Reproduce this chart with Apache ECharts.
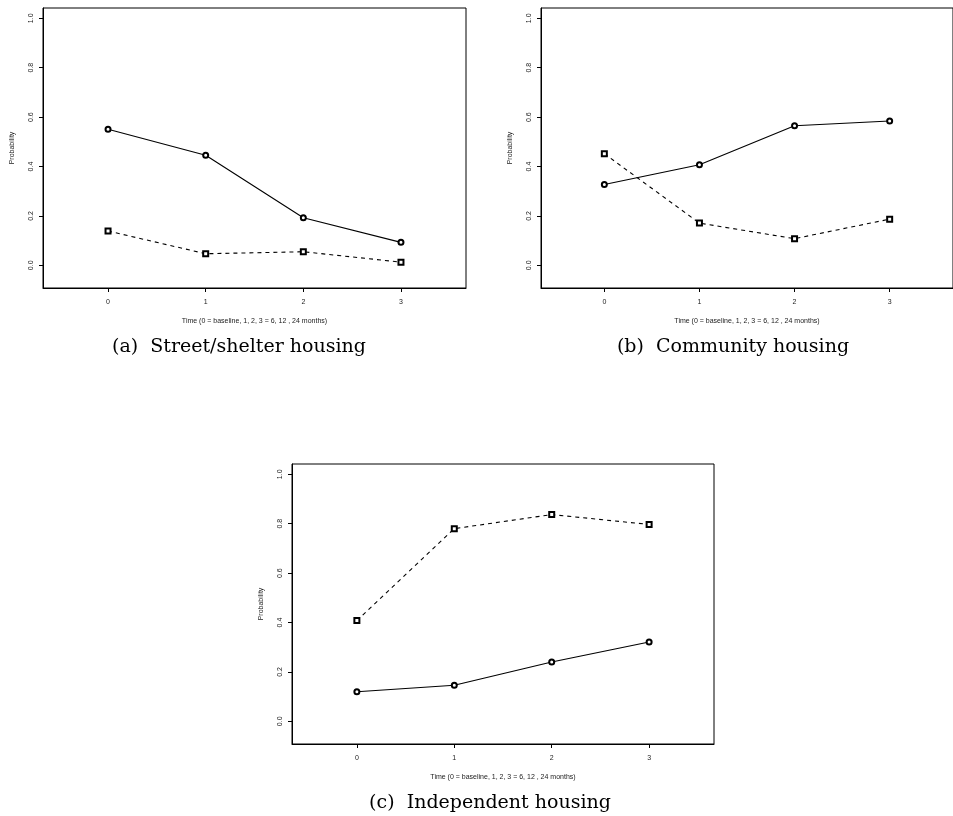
<!DOCTYPE html>
<html>
<head>
<meta charset="utf-8">
<script src="https://cdn.jsdelivr.net/npm/echarts@6/dist/echarts.min.js"></script>
<style>
  html, body { margin: 0; padding: 0; background: #fff; }
  #chart { width: 953px; height: 816px; }
</style>
</head>
<body>
<div id="chart"></div>
<script>
// time points (0 = baseline, 1, 2, 3 = 6, 12, 24 months)
const timePoints = [0, 1, 2, 3];
const yTicks = [0, 0.2, 0.4, 0.6, 0.8, 1.0];

// (a) street / shelter
const streetSolid = [0.551, 0.446, 0.193, 0.093];
const streetDashed = [0.139, 0.047, 0.055, 0.013];
// (b) community
const communitySolid = [0.327, 0.407, 0.565, 0.584];
const communityDashed = [0.452, 0.171, 0.108, 0.187];
// (c) independent
const independentSolid = [0.120, 0.146, 0.240, 0.321];
const independentDashed = [0.408, 0.780, 0.837, 0.797];

const captions = ['(a)  Street/shelter housing', '(b)  Community housing', '(c)  Independent housing'];
const xName = 'Time (0 = baseline, 1, 2, 3 = 6, 12 , 24 months)';
const yName = 'Probability';

const panels = [
  { solid: streetSolid, dashed: streetDashed, left: 43, top: 8, width: 423, capX: 239, capY: 347 },
  { solid: communitySolid, dashed: communityDashed, left: 541, top: 8, width: 423, capX: 733, capY: 347 },
  { solid: independentSolid, dashed: independentDashed, left: 292, top: 464, width: 422, capX: 490, capY: 803 }
];

const smallFont = { fontFamily: 'Liberation Sans', fontSize: 7, color: '#222' };

const chart = echarts.init(document.getElementById('chart'));

const grids = [], xAxes = [], yAxes = [], series = [], graphics = [];

panels.forEach((p, i) => {
  grids.push({
    left: p.left, top: p.top, width: p.width, height: 280,
    show: true, borderColor: '#000', borderWidth: 1, backgroundColor: 'transparent'
  });
  xAxes.push({
    type: 'value', gridIndex: i, min: -0.666, max: 3.666,
    axisLine: { show: true, onZero: false, lineStyle: { color: '#000', width: 1 } },
    axisTick: { show: true, length: 4, customValues: timePoints, lineStyle: { color: '#000', width: 1 } },
    axisLabel: { customValues: timePoints, margin: 11, ...smallFont },
    splitLine: { show: false },
    name: xName, nameLocation: 'middle', nameGap: 30,
    nameTextStyle: smallFont
  });
  yAxes.push({
    type: 'value', gridIndex: i, min: -0.0917, max: 1.0417,
    axisLine: { show: true, onZero: false, lineStyle: { color: '#000', width: 1 } },
    axisTick: { show: true, length: 4, customValues: yTicks, lineStyle: { color: '#000', width: 1 } },
    axisLabel: {
      customValues: yTicks, rotate: 90, margin: 8,
      formatter: v => v.toFixed(1), ...smallFont
    },
    splitLine: { show: false },
    name: yName, nameLocation: 'middle', nameGap: 27, nameRotate: 90,
    nameTextStyle: smallFont
  });
  series.push({
    type: 'line', xAxisIndex: i, yAxisIndex: i,
    data: timePoints.map((t, k) => [t, p.solid[k]]),
    symbol: 'emptyCircle', symbolSize: 5,
    lineStyle: { color: '#000', width: 1.1, type: 'solid' },
    itemStyle: { color: '#000', borderColor: '#000', borderWidth: 0.9 },
    silent: true, animation: false
  });
  series.push({
    type: 'line', xAxisIndex: i, yAxisIndex: i,
    data: timePoints.map((t, k) => [t, p.dashed[k]]),
    symbol: 'emptyRect', symbolSize: 5,
    lineStyle: { color: '#000', width: 1.1, type: [4, 4] },
    itemStyle: { color: '#000', borderColor: '#000', borderWidth: 0.9 },
    silent: true, animation: false
  });
  graphics.push({
    type: 'text', x: p.capX, y: p.capY,
    style: {
      text: captions[i], fill: '#000',
      font: '19px "DejaVu Serif"',
      textAlign: 'center', textVerticalAlign: 'middle'
    }
  });
});

chart.setOption({
  animation: false,
  backgroundColor: '#fff',
  grid: grids,
  xAxis: xAxes,
  yAxis: yAxes,
  series: series,
  graphic: graphics
});
</script>
</body>
</html>
